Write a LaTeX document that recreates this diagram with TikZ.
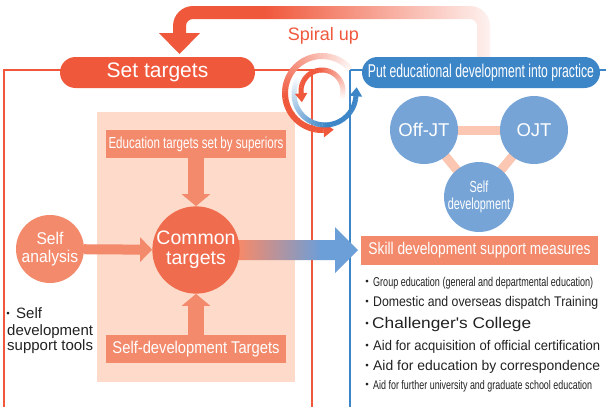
\documentclass[tikz,border=0pt]{standalone}
\usepackage{fontspec}
\setmainfont{Liberation Sans}
\newfontfamily\plainsans{Liberation Sans}
\newfontfamily\cjkfont{Noto Sans CJK JP}
\usepackage{graphicx}
\usetikzlibrary{arrows.meta}

\definecolor{mainred}{RGB}{240,88,60}
\definecolor{deepblue}{RGB}{60,134,200}
\definecolor{softblue}{RGB}{118,164,214}
\definecolor{salmon}{RGB}{243,138,108}
\definecolor{coral}{RGB}{240,108,78}
\definecolor{peach}{RGB}{253,218,201}
\definecolor{linkpink}{RGB}{251,198,178}
\definecolor{ink}{RGB}{34,34,34}
\definecolor{arrowblue}{RGB}{108,158,216}

% fading colours for the return arrow and the hand-over arrow
\pgfdeclarehorizontalshading{returnfade}{100bp}{color(0bp)=(mainred); color(41bp)=(mainred); color(75bp)=(mainred!8!white); color(100bp)=(mainred!8!white)}
\pgfdeclarehorizontalshading{handover}{100bp}{color(0bp)=(salmon); color(31bp)=(salmon); color(61bp)=(arrowblue); color(100bp)=(arrowblue)}

\pgfdeclarelayer{paper}
\pgfdeclarelayer{links}
\pgfsetlayers{paper,links,main}

\newcommand\fitw[2]{\resizebox{#1}{\height}{#2}}
\newcommand\narrow[2]{\scalebox{#1}[1]{#2}}
\newcommand\sz[1]{\fontsize{#1}{#1}\selectfont}
\newcommand\dotmark{{\cjkfont\sz{13pt}・}}

\begin{document}
\begin{tikzpicture}[x=1pt,y=-1pt,
  pill/.style={rounded corners=15.5pt, minimum height=31pt, inner sep=0pt, text=white},
  tag/.style={fill=salmon, text=white, inner sep=0pt, minimum height=28pt},
  roundnode/.style={circle, inner sep=0pt, text=white, align=center},
  link/.style={linkpink, line width=9pt},
  feed/.style={salmon, line width=16pt, -{Triangle[length=12pt,width=28pt]}},
  frame/.style={line width=2pt},
  item/.style={anchor=base west, inner sep=0pt, text=ink},
]
\useasboundingbox (0,0) rectangle (606,407);
\begin{pgfonlayer}{paper}
  \fill[white] (0,0) rectangle (606,407);
  \fill[peach] (97,112) rectangle (295,382);
\end{pgfonlayer}

% the two frames
\draw[frame, mainred] (4,410) -- (4,70) -- (312,70) -- (312,410);
\draw[frame, deepblue] (350,410) -- (350,70) -- (610,70);

% return arrow over the top
\shade[shading=returnfade] (173,33) -- (173,26) arc[start angle=180,end angle=270,radius=20]
  -- (470,6) arc[start angle=270,end angle=360,radius=20] -- (490,58) -- (477,58)
  -- (477,26) arc[start angle=360,end angle=270,radius=7] -- (193,19)
  arc[start angle=270,end angle=180,radius=7] -- (186,33) -- (200,33) -- (179.5,54) -- (159,33) -- cycle;

\node[anchor=base, text=mainred, font=\sz{18pt}, inner sep=0pt] (spiral) at (323.5,40) {Spiral up};

% headers
\node[pill, fill=mainred, minimum width=195pt, font=\sz{21pt}] (settargets) at (157.5,72.5) {Set targets};
\node[pill, fill=deepblue, minimum width=238pt, font=\sz{18.5pt}] (practice) at (481,72.5)
  {\fitw{226pt}{Put educational development into practice}};

% spiral symbol
\begin{scope}[shift={(322,93)}, yscale=-1]
  \foreach \k in {0,...,57}{
    \pgfmathsetmacro\ang{40+4*\k}
    \pgfmathtruncatemacro\pc{min(100,6+2.6*\k)}
    \draw[line width=6pt, mainred!\pc!white] (\ang:37) arc[start angle=\ang, end angle=\ang+4.5, radius=37];
  }
  \draw[line width=6pt, mainred, -{Triangle[length=10pt,width=14pt]}] (272:37) -- ++(2:10.5);
\end{scope}
\begin{scope}[shift={(325,94)}, yscale=-1]
  \foreach \k in {0,...,40}{
    \pgfmathsetmacro\ang{150+5*\k}
    \pgfmathtruncatemacro\pc{min(100,4+4*\k)}
    \draw[line width=5pt, deepblue!\pc!white] (\ang:31) arc[start angle=\ang, end angle=\ang+5.5, radius=31];
  }
  \draw[line width=5pt, deepblue, -{Triangle[length=9pt,width=12pt]}] (355:31) -- ++(85:9.5);
\end{scope}
\begin{scope}[shift={(322,91)}, yscale=-1]
  \foreach \k in {0,...,40}{
    \pgfmathsetmacro\ang{-20+5*\k}
    \pgfmathtruncatemacro\pc{min(100,5+4*\k)}
    \draw[line width=5pt, mainred!\pc!white] (\ang:21) arc[start angle=\ang, end angle=\ang+5.5, radius=21];
  }
  \draw[line width=5pt, mainred, -{Triangle[length=9pt,width=12pt]}] (185:21) -- ++(275:9.5);
\end{scope}

% practice side: three ways of learning
\node[roundnode, fill=softblue, minimum size=68pt, font=\sz{18.5pt}] (offjt) at (424,130) {Off-JT};
\node[roundnode, fill=softblue, minimum size=68pt, font=\sz{18.5pt}] (ojt) at (534,130) {OJT};
\node[roundnode, fill=softblue, minimum size=68pt, font=\fontsize{16pt}{17pt}\selectfont] (selfdev) at (479,197)
  {\narrow{0.68}{Self}\\\narrow{0.68}{development}};
\begin{pgfonlayer}{links}
  \draw[link] (offjt.center) -- (ojt.center);
  \draw[link] (ojt.center) -- (selfdev.center);
  \draw[link] (selfdev.center) -- (offjt.center);
\end{pgfonlayer}

% hand-over arrow from the common targets to the support measures
\coordinate (handtail) at (225,250);
\coordinate (handtip) at (358,250);
\shade[shading=handover] ([yshift=10pt]handtail) -- (335,240) -- (335,227) -- (handtip)
  -- (335,273) -- (335,260) -- ([yshift=-10pt]handtail) -- cycle;

\node[tag, minimum width=237pt, minimum height=29pt, font=\sz{17pt}] (skill) at (479.5,250.5)
  {\fitw{222pt}{Skill development support measures}};

% target setting side
\node[tag, minimum width=180pt, font=\sz{16pt}] (edu) at (196,144) {\fitw{175pt}{Education targets set by superiors}};
\node[tag, minimum width=180pt, font=\sz{17pt}] (selftgt) at (196,349) {\fitw{167pt}{Self-development Targets}};
\node[roundnode, fill=coral, minimum size=86pt, font=\fontsize{19.5pt}{20pt}\selectfont] (common) at (196,250) {Common\\targets};
\node[roundnode, fill=salmon, minimum size=68pt, font=\fontsize{17pt}{18pt}\selectfont] (selfan) at (50,249)
  {\narrow{0.92}{Self}\\\narrow{0.92}{analysis}};

\draw[feed] (edu) -- (common);
\draw[feed] (selftgt) -- (common);
\draw[salmon, line width=10pt, -{Triangle[length=12pt,width=24pt]}] (selfan) -- (common);

% support tools
\node[item, font=\sz{15pt}] (tools1) at (3,318) {\makebox[10pt][c]{\dotmark}\hspace{3pt}Self};
\node[item, font=\sz{15pt}] (tools2) at (7,335) {development};
\node[item, font=\sz{15pt}] (tools3) at (7,350) {support tools};

% support measures
\node[item, font=\sz{12.8pt}] (m1) at (363,286) {\makebox[8pt][c]{\dotmark}\hspace{2pt}\fitw{220pt}{Group education (general and departmental education)}};
\node[item, font=\sz{14pt}] (m2) at (363,306) {\makebox[8pt][c]{\dotmark}\hspace{2pt}\fitw{225pt}{Domestic and overseas dispatch Training}};
\node[item, font=\sz{15.5pt}] (m3) at (363,328) {\makebox[8pt][c]{\dotmark}\hspace{1pt}\fitw{159pt}{\plainsans Challenger's College}};
\node[item, font=\sz{14pt}] (m4) at (363,350) {\makebox[8pt][c]{\dotmark}\hspace{2pt}\fitw{227pt}{Aid for acquisition of official certification}};
\node[item, font=\sz{14pt}] (m5) at (363,370) {\makebox[8pt][c]{\dotmark}\hspace{2pt}\fitw{227pt}{Aid for education by correspondence}};
\node[item, font=\sz{12.5pt}] (m6) at (363,389) {\makebox[8pt][c]{\dotmark}\hspace{2pt}\fitw{219pt}{Aid for further university and graduate school education}};
\end{tikzpicture}
\end{document}
